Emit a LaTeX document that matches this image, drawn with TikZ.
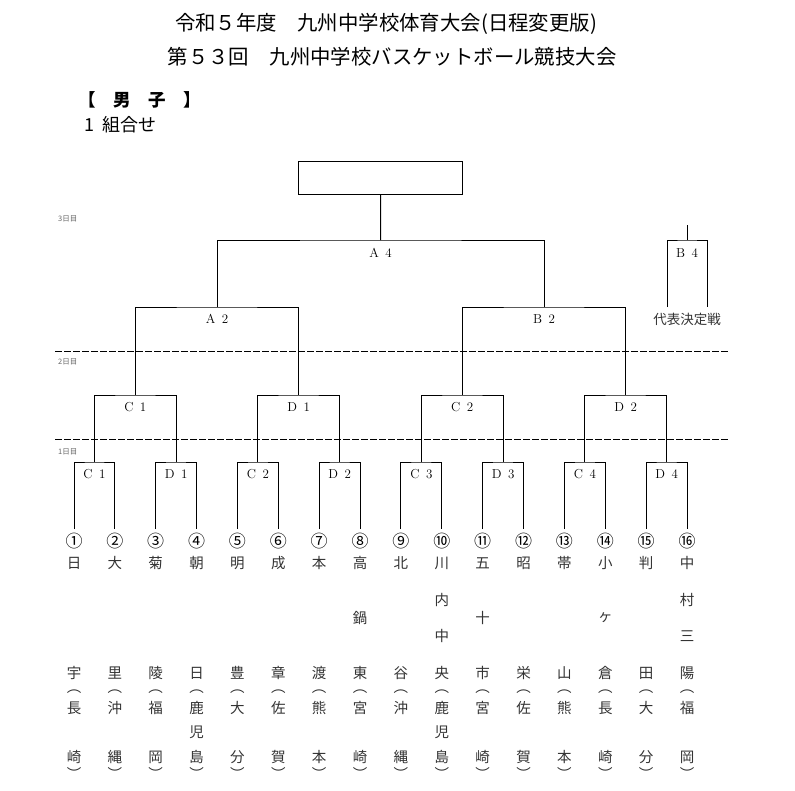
\documentclass[tikz,border=0pt]{standalone}
\usepackage{fontspec}
\newfontfamily\jp{Noto Sans CJK JP}
\usetikzlibrary{positioning}
\usetikzlibrary{calc}

\tikzset{
  line/.style={line width=1pt, black},
  dayline/.style={line width=1pt, dash pattern=on 7pt off 2pt},
  mlabel/.style={font=\fontsize{13}{15}\selectfont, inner sep=0pt},
  daylabel/.style={font=\jp\fontsize{7.5}{9}\selectfont, text=black!60, anchor=west, inner sep=0pt},
  team/.style={font=\jp\fontsize{14.5}{16}\selectfont, text=black!80, inner sep=0pt},
}
\newcommand{\mname}[2]{#1\hspace{0.5em}#2}

\begin{document}
\begin{tikzpicture}[x=1pt, y=-1pt]
  \useasboundingbox (0,0) rectangle (795,790);
  % Heading
  \node[font=\jp\fontsize{20.4}{23}\selectfont] (title1) at (386,24) {令和５年度　九州中学校体育大会(日程変更版)};
  \node[font=\jp\fontsize{20.4}{23}\selectfont] (title2) at (392,57) {第５３回　九州中学校バスケットボール競技大会};
  \node[font=\jp\bfseries\fontsize{17.5}{20}\selectfont, anchor=west, inner sep=0pt] (sex) at (78,100) {【　男　子　】};
  \node[font=\jp\fontsize{18}{20}\selectfont, anchor=west, inner sep=0pt] (sub) at (84,125) {1\hspace{0.45em}組合せ};
  % Horizontal step between teams
  \def\hstep{40.87}
  % Days
  \node[daylabel] (day3) at (58,219) {3日目};
  \node[daylabel] (day2) at (58,362) {2日目};
  \node[daylabel] (day1) at (58,452) {1日目};
  \draw[dayline] (55,351) -- (728,351);
  \draw[dayline] (55,439) -- (728,439);
  % Team slots
  \foreach \i/\cn in {1/①,2/②,3/③,4/④,5/⑤,6/⑥,7/⑦,8/⑧,9/⑨,10/⑩,11/⑪,12/⑫,13/⑬,14/⑭,15/⑮,16/⑯} {
    \pgfmathsetmacro{\tx}{74+(\i-1)*\hstep}
    \node[team, text=black, font=\jp\fontsize{17}{18}\selectfont] (n\i) at (\tx,541) {\cn};
    \coordinate (t\i) at (\tx,529);
  }
  % First day
  \foreach \k/\l/\d in {1/C/1,2/D/1,3/C/2,4/D/2,5/C/3,6/D/3,7/C/4,8/D/4} {
    \pgfmathtruncatemacro{\a}{2*\k-1}
    \pgfmathtruncatemacro{\b}{2*\k}
    \pgfmathsetmacro{\rx}{74+(2*\k-1.5)*\hstep}
    \coordinate (r\k) at (\rx,462);
    \draw[line] (t\a) |- (r\k) -| (t\b);
    \node[mlabel, below=7.5pt of r\k] (lr\k) {\mname{\l}{\d}};
  }
  % Second day
  \foreach \k/\l/\d in {1/C/1,2/D/1,3/C/2,4/D/2} {
    \pgfmathtruncatemacro{\a}{2*\k-1}
    \pgfmathtruncatemacro{\b}{2*\k}
    \pgfmathsetmacro{\sx}{74+(4*\k-2.5)*\hstep}
    \coordinate (s\k) at (\sx,395);
    \draw[line] (r\a) |- (s\k) -| (r\b);
    \node[mlabel, below=7.5pt of s\k] (ls\k) {\mname{\l}{\d}};
  }
  % Third day
  \coordinate (a2) at ({74+3.5*\hstep},307);
  \coordinate (b2) at ({74+11.5*\hstep},307);
  \coordinate (a4) at ({74+7.5*\hstep},240);
  \draw[line] (s1) |- (a2) -| (s2);
  \draw[line] (s3) |- (b2) -| (s4);
  \node[mlabel, below=7.5pt of a2] (la2) {\mname{A}{2}};
  \node[mlabel, below=7.5pt of b2] (lb2) {\mname{B}{2}};
  \draw[line] (a2) |- (a4) -| (b2);
  \node[mlabel, below=8.5pt of a4] (la4) {\mname{A}{4}};
  \node[draw, line, minimum width=164pt, minimum height=33pt, inner sep=0pt] (champ) at (380.5,177.5) {};
  \draw[line] (a4) -- (champ.south);
  % Representative playoff
  \coordinate (b4) at (687,240);
  \coordinate (b4top) at (687,225);
  \coordinate (b4l) at (667,307);
  \coordinate (b4r) at (707,307);
  \draw[line] (b4l) |- (b4) -| (b4r);
  \draw[line] (b4) -- (b4top);
  \node[mlabel, below=8.5pt of b4] (lb4) {\mname{B}{4}};
  \node[team, font=\jp\fontsize{13.5}{15}\selectfont] (rep) at (687,319) {代表決定戦};
  % School names, top to bottom
  \foreach \i/\sch/\nsch/\pre/\npre in {1/{日,宇}/2/{長,崎}/2, 2/{大,里}/2/{沖,縄}/2, 3/{菊,陵}/2/{福,岡}/2,
      4/{朝,日}/2/{鹿,児,島}/3, 5/{明,豊}/2/{大,分}/2, 6/{成,章}/2/{佐,賀}/2, 7/{本,渡}/2/{熊,本}/2,
      8/{高,鍋,東}/3/{宮,崎}/2, 9/{北,谷}/2/{沖,縄}/2, 10/{川,内,中,央}/4/{鹿,児,島}/3,
      11/{五,十,市}/3/{宮,崎}/2, 12/{昭,栄}/2/{佐,賀}/2, 13/{帯,山}/2/{熊,本}/2,
      14/{小,ヶ,倉}/3/{長,崎}/2, 15/{判,田}/2/{大,分}/2, 16/{中,村,三,陽}/4/{福,岡}/2} {
    \pgfmathsetmacro{\tx}{74+(\i-1)*\hstep}
    \foreach \c [count=\j] in \sch {
      \pgfmathsetmacro{\ty}{563+(\j-1)*110/(\nsch-1)}
      \node[team] (sc\i-\j) at (\tx,\ty) {\c};
    }
    \node[team] (op\i) at (\tx,692) {︵};
    \foreach \c [count=\j] in \pre {
      \pgfmathsetmacro{\ty}{708+(\j-1)*49/(\npre-1)}
      \node[team] (pf\i-\j) at (\tx,\ty) {\c};
    }
    \node[team] (cp\i) at (\tx,773) {︶};
  }
\end{tikzpicture}
\end{document}
